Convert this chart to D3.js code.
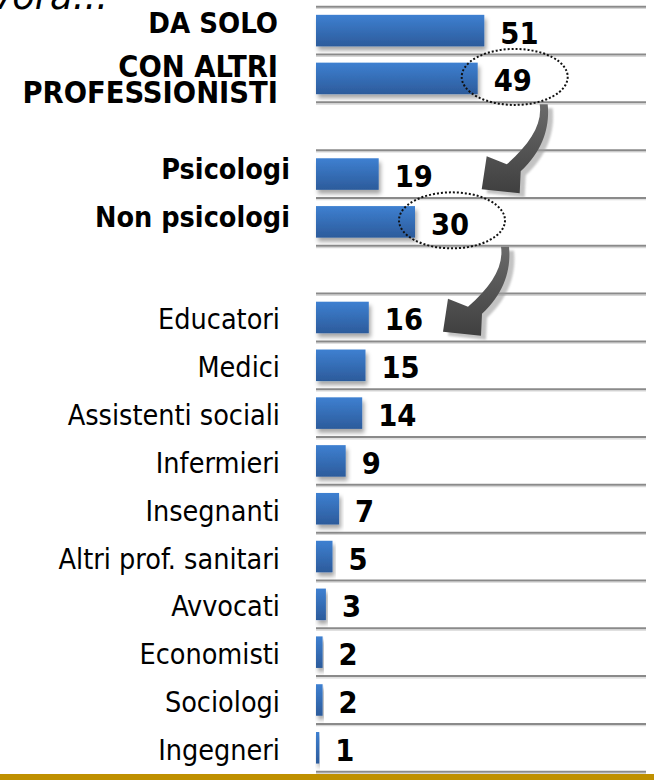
<!DOCTYPE html>
<html>
<head>
<meta charset="utf-8">
<script src="https://cdn.jsdelivr.net/npm/d3@7/dist/d3.min.js"></script>
<style>
  html, body { margin: 0; padding: 0; background: #ffffff; }
  svg { display: block; }
  .f { font-family: 'DejaVu Sans Condensed', 'DejaVu Sans', Verdana, sans-serif; font-stretch: condensed; }
</style>
</head>
<body>
<svg id="chart" width="654" height="780"></svg>
<script>
// ---------- data ----------
const titleText = "Lavora...";
const categories = [
  "DA SOLO", "CON ALTRI\nPROFESSIONISTI", "",
  "Psicologi", "Non psicologi", "",
  "Educatori", "Medici", "Assistenti sociali", "Infermieri", "Insegnanti",
  "Altri prof. sanitari", "Avvocati", "Economisti", "Sociologi", "Ingegneri"
];
const values = [51, 49, null, 19, 30, null, 16, 15, 14, 9, 7, 5, 3, 2, 2, 1];
const boldRows = [0, 1, 3, 4];
const circledRows = [1, 4];
const xDomain = [0, 100];

// ---------- layout ----------
const W = 654, H = 780;
const svg = d3.select("#chart");
const x = d3.scaleLinear().domain(xDomain).range([316, 646]);
const y = d3.scaleBand().domain(d3.range(categories.length)).range([6.7, 771.7]).padding(0);
const bw = y.bandwidth();
const barH = bw * 0.66;

const defs = svg.append("defs");
const grad = defs.append("linearGradient").attr("id", "barGrad")
  .attr("x1", 0).attr("y1", 0).attr("x2", 0).attr("y2", 1);
grad.append("stop").attr("offset", "0%").attr("stop-color", "#3e80d1");
grad.append("stop").attr("offset", "100%").attr("stop-color", "#2c5b9b");

const shadow = defs.append("filter").attr("id", "barShadow")
  .attr("x", "-10%").attr("y", "-10%").attr("width", "130%").attr("height", "150%");
shadow.append("feDropShadow").attr("dx", 2).attr("dy", 4).attr("stdDeviation", 2.2)
  .attr("flood-color", "#000").attr("flood-opacity", 0.35);

const arrowGrad = defs.append("linearGradient").attr("id", "arrowGrad")
  .attr("x1", 0).attr("y1", 0).attr("x2", 0).attr("y2", 1);
arrowGrad.append("stop").attr("offset", "0%").attr("stop-color", "#6a6a6a");
arrowGrad.append("stop").attr("offset", "100%").attr("stop-color", "#3f3f3f");
const blur = defs.append("filter").attr("id", "arrowBlur");
blur.append("feGaussianBlur").attr("stdDeviation", 1);

// ---------- gridlines (category boundaries) ----------
const boundaries = d3.range(categories.length + 1).map(i => y.range()[0] + i * bw);
const grid = svg.append("g");
grid.selectAll("line.lt").data(boundaries).join("line")
  .attr("x1", x(0)).attr("x2", 646)
  .attr("y1", d => d + 1.8).attr("y2", d => d + 1.8)
  .attr("stroke", "#d6d6d6").attr("stroke-width", 1.2);
grid.selectAll("line.dk").data(boundaries).join("line")
  .attr("x1", x(0)).attr("x2", 646)
  .attr("y1", d => d).attr("y2", d => d)
  .attr("stroke", "#8a8a8a").attr("stroke-width", 2);

// ---------- bars ----------
const rows = categories.map((c, i) => ({ i, label: c, value: values[i] }));
const barRows = rows.filter(d => d.value != null);

svg.append("g").selectAll("rect").data(barRows).join("rect")
  .attr("x", x(0))
  .attr("y", d => y(d.i) + (bw - barH) / 2)
  .attr("width", d => x(d.value) - x(0))
  .attr("height", barH)
  .attr("fill", "url(#barGrad)")
  .attr("filter", "url(#barShadow)");

// ---------- value labels ----------
svg.append("g").selectAll("text").data(barRows).join("text")
  .attr("class", "f")
  .attr("x", d => x(d.value) + 16)
  .attr("y", d => y(d.i) + bw / 2 + 13)
  .attr("font-weight", "bold")
  .attr("font-size", 30.5)
  .attr("fill", "#000")
  .text(d => d.value);

// ---------- category labels ----------
const labelG = svg.append("g");
rows.filter(d => d.label !== "").forEach(d => {
  const bold = boldRows.includes(d.i);
  const lines = d.label.split("\n");
  const cy = y(d.i) + bw / 2;
  let xr, base, fs;
  if (!bold) { xr = 280; base = cy + 12; fs = 28.5; }
  else if (lines.length > 1) { xr = 278; base = cy - 1.5; fs = 30.5; }
  else if (d.i < 2) { xr = 278; base = cy + 2.8; fs = 29; }
  else { xr = 290; base = cy + 5; fs = 28.5; }
  lines.forEach((ln, k) => {
    labelG.append("text")
      .attr("class", "f")
      .attr("text-anchor", "end")
      .attr("font-weight", bold ? "bold" : "normal")
      .attr("font-size", fs)
      .attr("fill", "#000")
      .attr("x", xr).attr("y", base + k * 26)
      .text(ln);
  });
});

// ---------- dotted ellipses around highlighted values ----------
svg.append("g").selectAll("ellipse").data(rows.filter(d => circledRows.includes(d.i))).join("ellipse")
  .attr("cx", d => x(d.value) + 37)
  .attr("cy", d => y(d.i) + bw / 2 - 1.5)
  .attr("rx", 53).attr("ry", 28)
  .attr("fill", "none")
  .attr("stroke", "#111")
  .attr("stroke-width", 2)
  .attr("stroke-dasharray", "2,2");

// ---------- curved arrows ----------
const arrowShape = "M-4,0 L4,0 C6,20 1,45 -23,67 L-24,89 L-62,85 L-57,52 L-37,60 C-14,40 -1,20 -4,0 Z";
const arrows = [
  { x: x(values[1]) + 66, y: y(2) + 2 },
  { x: x(values[4]) + 90, y: y(5) + 1 }
];
const ag = svg.append("g");
arrows.forEach(a => {
  ag.append("path").attr("d", arrowShape)
    .attr("transform", `translate(${a.x + 5},${a.y + 4})`)
    .attr("fill", "#9c9c9c").attr("opacity", 0.6).attr("filter", "url(#arrowBlur)");
  ag.append("path").attr("d", arrowShape)
    .attr("transform", `translate(${a.x},${a.y})`)
    .attr("fill", "url(#arrowGrad)");
});

// ---------- title fragment (cropped at top) ----------
svg.append("text")
  .attr("x", 108).attr("y", 8.5)
  .attr("text-anchor", "end")
  .attr("font-family", "'DejaVu Sans', Verdana, sans-serif")
  .attr("font-style", "italic")
  .attr("font-size", 37)
  .attr("fill", "#000")
  .text(titleText);

// ---------- bottom gold band ----------
svg.append("rect").attr("x", 0).attr("y", 774).attr("width", W).attr("height", 6).attr("fill", "#bf9000");
</script>
</body>
</html>
